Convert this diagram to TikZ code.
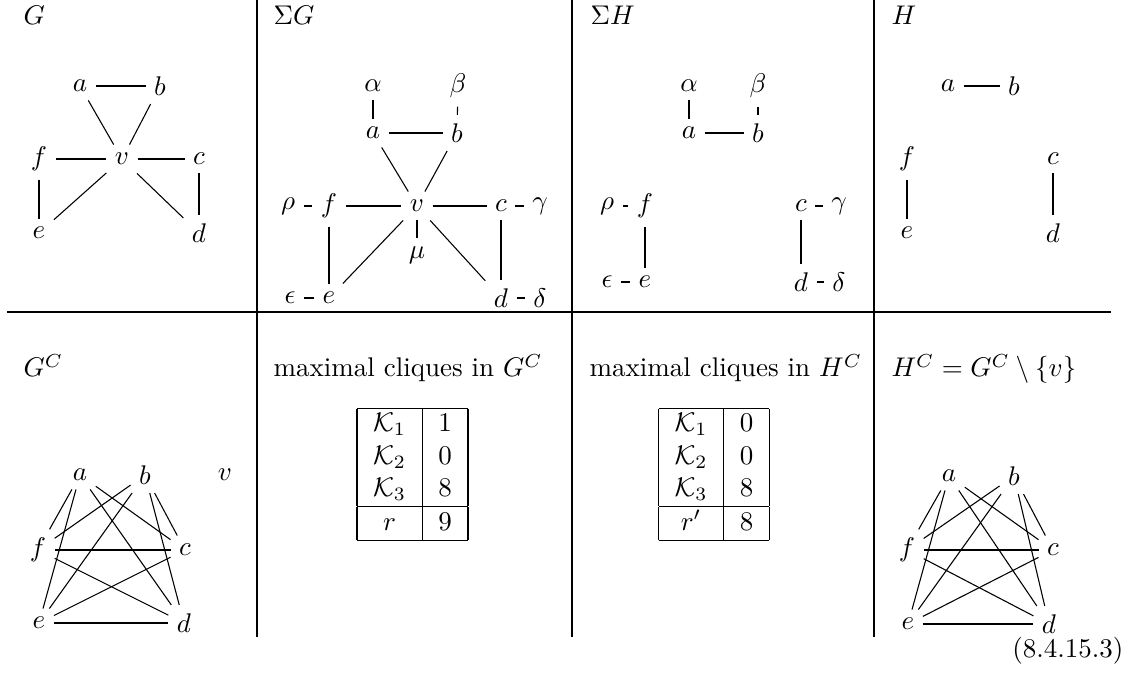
\documentclass[tikz,border=0pt]{standalone}
\usepackage{amssymb}
\usepackage{tikz}

\begin{document}
\begin{tikzpicture}[x=0.3704pt, y=-0.3704pt,
  gnode/.style={inner sep=3pt},
  lbl/.style={anchor=base west, inner sep=0pt}]
\useasboundingbox (0,0) rectangle (1140,673);

% Table rules
\draw (257,0) -- (257,637);
\draw (572,0) -- (572,637);
\draw (874,0) -- (874,637);
\draw (7,312) -- (1111,312);

% Headings
\node[lbl] (tG) at (23,25) {$G$};
\node[lbl] (tSG) at (273,25) {$\Sigma G$};
\node[lbl] (tSH) at (590,25) {$\Sigma H$};
\node[lbl] (tH) at (891,25) {$H$};
\node[lbl] (tGC) at (23,377) {$G^C$};
\node[lbl] (tKG) at (273,377) {maximal cliques in $G^C$};
\node[lbl] (tKH) at (589,377) {maximal cliques in $H^C$};
\node[lbl] (tHC) at (891,377) {$H^C = G^C \setminus \{v\}$};

% G
\node[gnode] (Ga) at (80,86) {$a$};
\node[gnode] (Gb) at (160,86) {$b$};
\node[gnode] (Gf) at (39,159) {$f$};
\node[gnode] (Gv) at (122,159) {$v$};
\node[gnode] (Gc) at (199,159) {$c$};
\node[gnode] (Ge) at (39,233) {$e$};
\node[gnode] (Gd) at (199,233) {$d$};
\draw (Ga) -- (Gb);
\draw (Ga) -- (Gv);
\draw (Gb) -- (Gv);
\draw (Gf) -- (Gv);
\draw (Gv) -- (Gc);
\draw (Gv) -- (Ge);
\draw (Gv) -- (Gd);
\draw (Gf) -- (Ge);
\draw (Gc) -- (Gd);

% Sigma G
\node[gnode] (SGal) at (373,86) {$\alpha$};
\node[gnode] (SGbe) at (458,86) {$\beta$};
\node[gnode] (SGa) at (373,133) {$a$};
\node[gnode] (SGb) at (457,133) {$b$};
\node[gnode] (SGrh) at (288,206) {$\rho$};
\node[gnode] (SGf) at (329,206) {$f$};
\node[gnode] (SGv) at (417,206) {$v$};
\node[gnode] (SGc) at (501,206) {$c$};
\node[gnode] (SGga) at (540,206) {$\gamma$};
\node[gnode] (SGmu) at (417,255) {$\mu$};
\node[gnode] (SGep) at (290,298) {$\epsilon$};
\node[gnode] (SGe) at (329,298) {$e$};
\node[gnode] (SGd) at (501,298) {$d$};
\node[gnode] (SGde) at (540,298) {$\delta$};
\draw (SGal) -- (SGa);
\draw (SGbe) -- (SGb);
\draw (SGa) -- (SGb);
\draw (SGa) -- (SGv);
\draw (SGb) -- (SGv);
\draw (SGrh) -- (SGf);
\draw (SGf) -- (SGv);
\draw (SGv) -- (SGc);
\draw (SGc) -- (SGga);
\draw (SGv) -- (SGmu);
\draw (SGv) -- (SGe);
\draw (SGv) -- (SGd);
\draw (SGf) -- (SGe);
\draw (SGep) -- (SGe);
\draw (SGc) -- (SGd);
\draw (SGd) -- (SGde);

% Sigma H
\node[gnode] (SHal) at (689,86) {$\alpha$};
\node[gnode] (SHbe) at (758,86) {$\beta$};
\node[gnode] (SHa) at (689,133) {$a$};
\node[gnode] (SHb) at (758,133) {$b$};
\node[gnode] (SHrh) at (607,206) {$\rho$};
\node[gnode] (SHf) at (645,206) {$f$};
\node[gnode] (SHc) at (801,206) {$c$};
\node[gnode] (SHga) at (839,206) {$\gamma$};
\node[gnode] (SHep) at (607,282) {$\epsilon$};
\node[gnode] (SHe) at (645,282) {$e$};
\node[gnode] (SHd) at (801,282) {$d$};
\node[gnode] (SHde) at (839,282) {$\delta$};
\draw (SHal) -- (SHa);
\draw (SHbe) -- (SHb);
\draw (SHa) -- (SHb);
\draw (SHrh) -- (SHf);
\draw (SHf) -- (SHe);
\draw (SHep) -- (SHe);
\draw (SHc) -- (SHga);
\draw (SHc) -- (SHd);
\draw (SHd) -- (SHde);

% H
\node[gnode] (Ha) at (948,86) {$a$};
\node[gnode] (Hb) at (1014,86) {$b$};
\node[gnode] (Hf) at (907,159) {$f$};
\node[gnode] (Hc) at (1053,159) {$c$};
\node[gnode] (He) at (907,233) {$e$};
\node[gnode] (Hd) at (1053,233) {$d$};
\draw (Ha) -- (Hb);
\draw (Hf) -- (He);
\draw (Hc) -- (Hd);

% G^C
\node[gnode] (GCa) at (80,475) {$a$};
\node[gnode] (GCb) at (145,475) {$b$};
\node[gnode] (GCv) at (225,475) {$v$};
\node[gnode] (GCf) at (38,550) {$f$};
\node[gnode] (GCc) at (185,550) {$c$};
\node[gnode] (GCe) at (39,623) {$e$};
\node[gnode] (GCd) at (184,623) {$d$};
\draw (GCa) -- (GCf);
\draw (GCa) -- (GCe);
\draw (GCa) -- (GCc);
\draw (GCa) -- (GCd);
\draw (GCb) -- (GCf);
\draw (GCb) -- (GCe);
\draw (GCb) -- (GCc);
\draw (GCb) -- (GCd);
\draw (GCf) -- (GCc);
\draw (GCf) -- (GCd);
\draw (GCe) -- (GCc);
\draw (GCe) -- (GCd);

% clique counts
\node[inner sep=0pt] (KG) at (412.5,474.5) {%
  \begin{tabular}{|c|c|}\hline
  $\mathcal{K}_1$ & 1\\ $\mathcal{K}_2$ & 0\\ $\mathcal{K}_3$ & 8\\ \hline
  $r$ & 9\\ \hline
  \end{tabular}};
\node[inner sep=0pt] (KH) at (714,474.5) {%
  \begin{tabular}{|c|c|}\hline
  $\mathcal{K}_1$ & 0\\ $\mathcal{K}_2$ & 0\\ $\mathcal{K}_3$ & 8\\ \hline
  $r'$ & 8\\ \hline
  \end{tabular}};

% H^C
\node[gnode] (HCa) at (949,476) {$a$};
\node[gnode] (HCb) at (1014,476) {$b$};
\node[gnode] (HCf) at (907,550) {$f$};
\node[gnode] (HCc) at (1053,550) {$c$};
\node[gnode] (HCe) at (908,624) {$e$};
\node[gnode] (HCd) at (1049,624) {$d$};
\draw (HCa) -- (HCf);
\draw (HCa) -- (HCe);
\draw (HCa) -- (HCc);
\draw (HCa) -- (HCd);
\draw (HCb) -- (HCf);
\draw (HCb) -- (HCe);
\draw (HCb) -- (HCc);
\draw (HCb) -- (HCd);
\draw (HCf) -- (HCc);
\draw (HCf) -- (HCd);
\draw (HCe) -- (HCc);
\draw (HCe) -- (HCd);

\node[anchor=base east, inner sep=0pt] (eqno) at (1124,658) {(8.4.15.3)};
\end{tikzpicture}
\end{document}
